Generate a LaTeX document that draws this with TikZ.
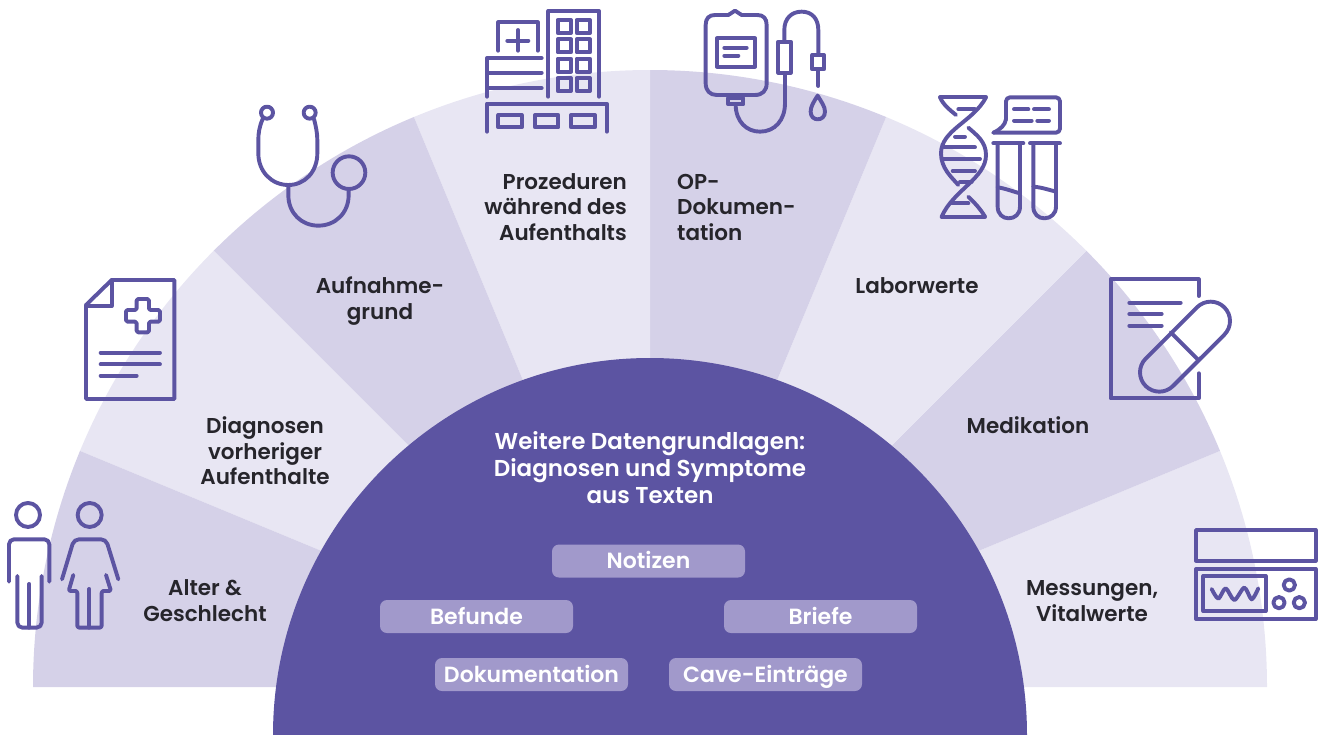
\documentclass[tikz,border=0pt]{standalone}
\usepackage{fontspec}
\setmainfont{Poppins}[BoldFont={* SemiBold}]
\definecolor{violet}{HTML}{5C54A2}
\definecolor{sectordark}{HTML}{D5D1E8}
\definecolor{sectorlight}{HTML}{E8E6F3}
\definecolor{pillfill}{HTML}{A199CB}
\definecolor{labeltext}{HTML}{26252B}
\tikzset{
	label/.style={text=labeltext, align=center, inner sep=0pt, font=\fontsize{21.5}{25.5}\selectfont\bfseries},
	heading/.style={text=white, align=center, inner sep=0pt, font=\fontsize{23}{27}\selectfont\bfseries},
	pill/.style={fill=pillfill, rounded corners=7pt, minimum width=193pt, minimum height=33pt, inner sep=0pt, text=white, text height=19.5pt, text depth=4pt, font=\fontsize{22}{24}\selectfont\bfseries},
	icon/.style={draw=violet, line width=3.9pt, line cap=round, line join=round, scale=0.3333}
}
\begin{document}
\begin{tikzpicture}[x=1pt,y=-1pt]
		\useasboundingbox (0,0) rectangle (1323,734);
		\foreach \a/\col in {0/sectorlight,22.5/sectordark,45/sectorlight,67.5/sectordark,90/sectorlight,112.5/sectordark,135/sectorlight,157.5/sectordark}
			\fill[\col] (650,687) -- ({650+617*cos(\a)},{687-617*sin(\a)}) arc[start angle=\a,delta angle=22.5,radius=617pt] -- cycle;
		\fill[violet] (273,735) arc[start angle=180,end angle=0,radius=377pt] -- cycle;
		\node[label] (alter) at (205,600.5) {Alter \&\\Geschlecht};
		\node[label] (diagnosen) at (265,451) {Diagnosen\\vorheriger\\Aufenthalte};
		\node[label] (aufnahme) at (380,301) {Aufnahme-\\grund};
		\node[label, align=right, anchor=east] (prozeduren) at (627,207) {Prozeduren\\während des\\Aufenthalts};
		\node[label, align=left, anchor=west] (op) at (677,207) {OP-\\Dokumen-\\tation};
		\node[label] (labor) at (917,286) {Laborwerte};
		\node[label] (medikation) at (1028,425) {Medikation};
		\node[label] (messungen) at (1092,601) {Messungen,\\Vitalwerte};
		\node[heading] (weitere) at (650,468) {Weitere Datengrundlagen:\\Diagnosen und Symptome\\aus Texten};
		\node[pill] (notizen) at (648.5,561) {Notizen};
		\node[pill] (befunde) at (476.5,616.5) {Befunde};
		\node[pill] (briefe) at (820.5,616.5) {Briefe};
		\node[pill] (dokumentation) at (531.5,674.5) {Dokumentation};
		\node[pill] (cave) at (765.5,674.5) {Cave-Einträge};
		\begin{scope}[shift={(0,260)},icon]
			\draw (258,135) -- (335,60) -- (523,60) -- (523,417) -- (258,417) -- cycle;
			\draw (335,60) -- (335,138) -- (258,138);
			\draw[rounded corners=1.5pt] (410,117) -- (447,117) -- (447,150) -- (480,150) -- (480,185) -- (447,185) -- (447,217) -- (410,217) -- (410,185) -- (378,185) -- (378,150) -- (410,150) -- cycle;
			\draw (302,278) -- (480,278) (302,313) -- (480,313) (302,347) -- (410,347);
			\draw (84,765) circle[radius=36];
			\draw[rounded corners=5pt] (27,965) -- (27,838) -- (148,838) -- (148,965);
			\draw[rounded corners=5pt] (52,948) -- (52,1103) -- (125,1103) -- (125,948);
			\draw (88,972) -- (88,1103);
			\draw (269,765) circle[radius=36];
			\draw[rounded corners=5pt] (186,958) -- (222,838) -- (318,838) -- (355,958);
			\draw[rounded corners=2pt] (220,945) -- (206,993) -- (232,993) -- (232,1103) -- (305,1103) -- (305,993) -- (333,993) -- (318,945);
			\draw (268,987) -- (268,1103);
		\end{scope}
		\begin{scope}[shift={(240,95)},icon]
			\draw (81,53) circle[radius=18] (209,53) circle[radius=18];
			\draw (68,72) .. controls (58,95) and (55,115) .. (55,135) -- (55,175) .. controls (55,230) and (95,270) .. (145,270) .. controls (195,270) and (232,230) .. (232,175) -- (232,135) .. controls (232,115) and (228,95) .. (222,72);
			\draw (145,270) -- (145,300) .. controls (145,355) and (185,392) .. (235,392) .. controls (285,392) and (326,355) .. (326,300) -- (326,285);
			\draw (327,233) circle[radius=49];
		\end{scope}
		\begin{scope}[shift={(475,0)},icon]
			\draw (220,290) -- (220,33) -- (372,33) -- (372,290);
			\foreach \wx in {248,305}
				\foreach \wy in {60,118,176,234}
					\draw (\wx,\wy) rectangle ++(40,39);
			\draw (70,152) -- (70,67) -- (188,67) -- (188,152);
			\draw (97,122) -- (160,122) (129,90) -- (129,152);
			\draw (36,290) -- (36,174) -- (200,174) (36,218) -- (200,218) (36,264) -- (200,264);
			\draw (36,395) -- (36,311) -- (395,311) -- (395,395);
			\draw (70,345) rectangle (140,382) (180,345) rectangle (250,382) (288,345) rectangle (360,382);
		\end{scope}
		\begin{scope}[shift={(695,0)},icon]
			\draw (32,75) .. controls (32,55) and (42,45) .. (60,45) -- (100,45) -- (120,32) -- (140,45) -- (187,45) .. controls (205,45) and (215,55) .. (215,75) -- (215,250) .. controls (215,272) and (202,285) .. (180,285) -- (65,285) .. controls (45,285) and (32,272) .. (32,250) -- cycle;
			\draw (66,115) rectangle (180,200);
			\draw (88,143) -- (155,143) (88,167) -- (130,167);
			\draw (100,295) rectangle (145,313);
			\draw (122,313) .. controls (122,365) and (155,395) .. (195,395) .. controls (240,395) and (270,360) .. (270,310) -- (270,220);
			\draw (250,125) rectangle (287,218);
			\draw (268,125) -- (268,90) .. controls (268,55) and (290,35) .. (320,35) .. controls (350,35) and (370,55) .. (370,90) -- (370,165);
			\draw (352,165) rectangle (387,208);
			\draw (370,208) -- (370,258);
			\draw (368,287) .. controls (355,307) and (347,320) .. (347,335) .. controls (347,350) and (357,358) .. (368,358) .. controls (380,358) and (390,350) .. (390,335) .. controls (390,320) and (380,307) .. (368,287) -- cycle;
		\end{scope}
		\begin{scope}[shift={(930,90)},icon]
			\draw (30,22) -- (168,22) (35,380) -- (165,380);
			\draw (168,22) .. controls (130,95) and (33,120) .. (33,190) .. controls (33,235) and (65,262) .. (85,285);
			\draw (115,320) .. controls (135,340) and (150,355) .. (165,380);
			\draw (30,22) .. controls (40,45) and (60,60) .. (78,75);
			\draw (115,113) .. controls (140,135) and (168,155) .. (168,195) .. controls (168,265) and (70,300) .. (35,380);
			\draw (85,58) -- (135,58) (75,140) -- (105,140) (42,172) -- (135,172) (40,207) -- (150,207) (68,243) -- (135,243) (90,275) -- (125,275) (65,340) -- (115,340);
			\draw[rounded corners=4pt] (190,128) -- (390,128) -- (390,22) -- (228,22) -- (228,88);
			\draw (228,88) .. controls (225,105) and (212,118) .. (190,128);
			\draw (252,58) -- (295,58) (312,58) -- (357,58) (252,92) -- (305,92) (322,92) -- (357,92);
			\draw (190,160) -- (280,160) (300,160) -- (390,160);
			\draw (203,160) -- (203,350) .. controls (203,372) and (218,385) .. (236,385) .. controls (255,385) and (270,372) .. (270,350) -- (270,160);
			\draw (310,160) -- (310,350) .. controls (310,372) and (325,385) .. (343,385) .. controls (362,385) and (378,372) .. (378,350) -- (378,160);
			\draw (203,292) .. controls (225,295) and (250,305) .. (270,310);
			\draw (310,290) .. controls (335,292) and (358,300) .. (378,305);
		\end{scope}
		\begin{scope}[shift={(1100,270)},icon]
			\draw (296,78) -- (296,28) -- (32,28) -- (32,385) -- (296,385) -- (296,310);
			\draw (88,98) -- (242,98) (88,132) -- (185,132) (88,167) -- (185,167);
			\draw (137,266) -- (291,112) arc[start angle=135,end angle=-45,radius=58pt] -- (219,348) arc[start angle=-45,end angle=-225,radius=58pt] -- cycle;
			\draw (212,187) -- (295,270);
		\end{scope}
		\begin{scope}[shift={(1185,520)},icon]
			\draw (33,30) rectangle (392,122);
			\draw (33,147) rectangle (392,297);
			\draw (55,168) rectangle (242,273);
			\draw plot[smooth] coordinates {(80,207) (100,236) (122,205) (148,240) (178,203) (200,238) (220,205)};
			\draw (313,195) circle[radius=17] (282,248) circle[radius=17] (343,248) circle[radius=17];
		\end{scope}
	\end{tikzpicture}
\end{document}
